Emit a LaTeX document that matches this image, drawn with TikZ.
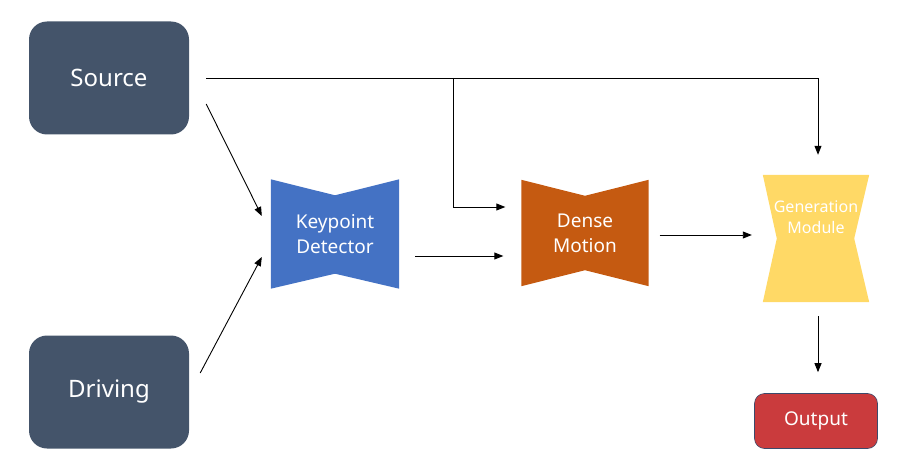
\documentclass[tikz,border=0pt]{standalone}
\usepackage{fontspec}
\setmainfont{Noto Sans}
\usetikzlibrary{arrows.meta,backgrounds}
\definecolor{slate}{HTML}{44546A}
\definecolor{kpblue}{HTML}{4472C4}
\definecolor{dmorange}{HTML}{C55A11}
\definecolor{genyellow}{HTML}{FFD966}
\definecolor{outred}{HTML}{CA3B3D}
\definecolor{outline}{HTML}{3B4A6B}
\begin{document}
\begin{tikzpicture}[x=1pt,y=-1pt,
      inbox/.style={rounded corners=18pt,fill=slate,text=white,
        minimum width=160pt,minimum height=113pt,font=\fontsize{24}{28}\selectfont},
      tie/.style={inner sep=0pt,text=white,align=center,
        font=\fontsize{19}{25}\selectfont},
      arr/.style={line width=0.9pt,-{Triangle[length=9pt,width=7pt]}}]
      \useasboundingbox (0,0) rectangle (905,476);
      % inputs
      \node[inbox] (src) at (109,78) {Source};
      \node[inbox] (drv) at (109,392) {Driving};
      % networks
      \node[tie,minimum width=128pt,minimum height=109pt] (kp) at (335,234) {Keypoint\\Detector};
      \node[tie,minimum width=127pt,minimum height=106pt] (dm) at (585,233) {Dense\\Motion};
      \node[inner sep=0pt,minimum width=106pt,minimum height=127pt] (gen) at (816,238.5) {};
      \node[tie,font=\fontsize{16}{21}\selectfont] (gentxt) at ([yshift=21pt]gen.center) {Generation\\Module};
      \node[rounded corners=10pt,fill=outred,draw=outline,line width=0.6pt,text=white,
        minimum width=123pt,minimum height=55pt,font=\fontsize{19}{22}\selectfont] (out) at (816,421) {Output};
      \begin{scope}[on background layer]
       \fill[kpblue] (kp.north west) -- ([yshift=-16pt]kp.north) -- (kp.north east)
        -- (kp.south east) -- ([yshift=15pt]kp.south) -- (kp.south west) -- cycle;
       \fill[dmorange] (dm.north west) -- ([yshift=-16pt]dm.north) -- (dm.north east)
        -- (dm.south east) -- ([yshift=16pt]dm.south) -- (dm.south west) -- cycle;
       \fill[genyellow] (gen.north west) -- (gen.north east) -- ([xshift=-15pt]gen.east)
        -- (gen.south east) -- (gen.south west) -- ([xshift=14pt]gen.west) -- cycle;
      \end{scope}
      % connectors
      \coordinate (br) at (453,78);
      \draw[arr] ([xshift=17pt]src.east) -| ([xshift=2pt,yshift=20pt]gen.north);
      \draw[arr] (br) |- ([xshift=-16pt,yshift=26pt]dm.west);
      \draw[arr] ([xshift=17pt,yshift=-26pt]src.east) -- ([xshift=-9pt,yshift=18pt]kp.west);
      \draw[arr] ([xshift=11pt,yshift=19pt]drv.east) -- ([xshift=-9pt,yshift=-23pt]kp.west);
      \draw[arr] ([xshift=16pt,yshift=-22pt]kp.east) -- ([xshift=-18pt,yshift=-23pt]dm.west);
      \draw[arr] ([xshift=11pt,yshift=-2pt]dm.east) -- ([xshift=-11pt,yshift=3.5pt]gen.west);
      \draw[arr] ([xshift=2pt,yshift=-14pt]gen.south) -- ([xshift=2pt,yshift=21pt]out.north);
\end{tikzpicture}
\end{document}
